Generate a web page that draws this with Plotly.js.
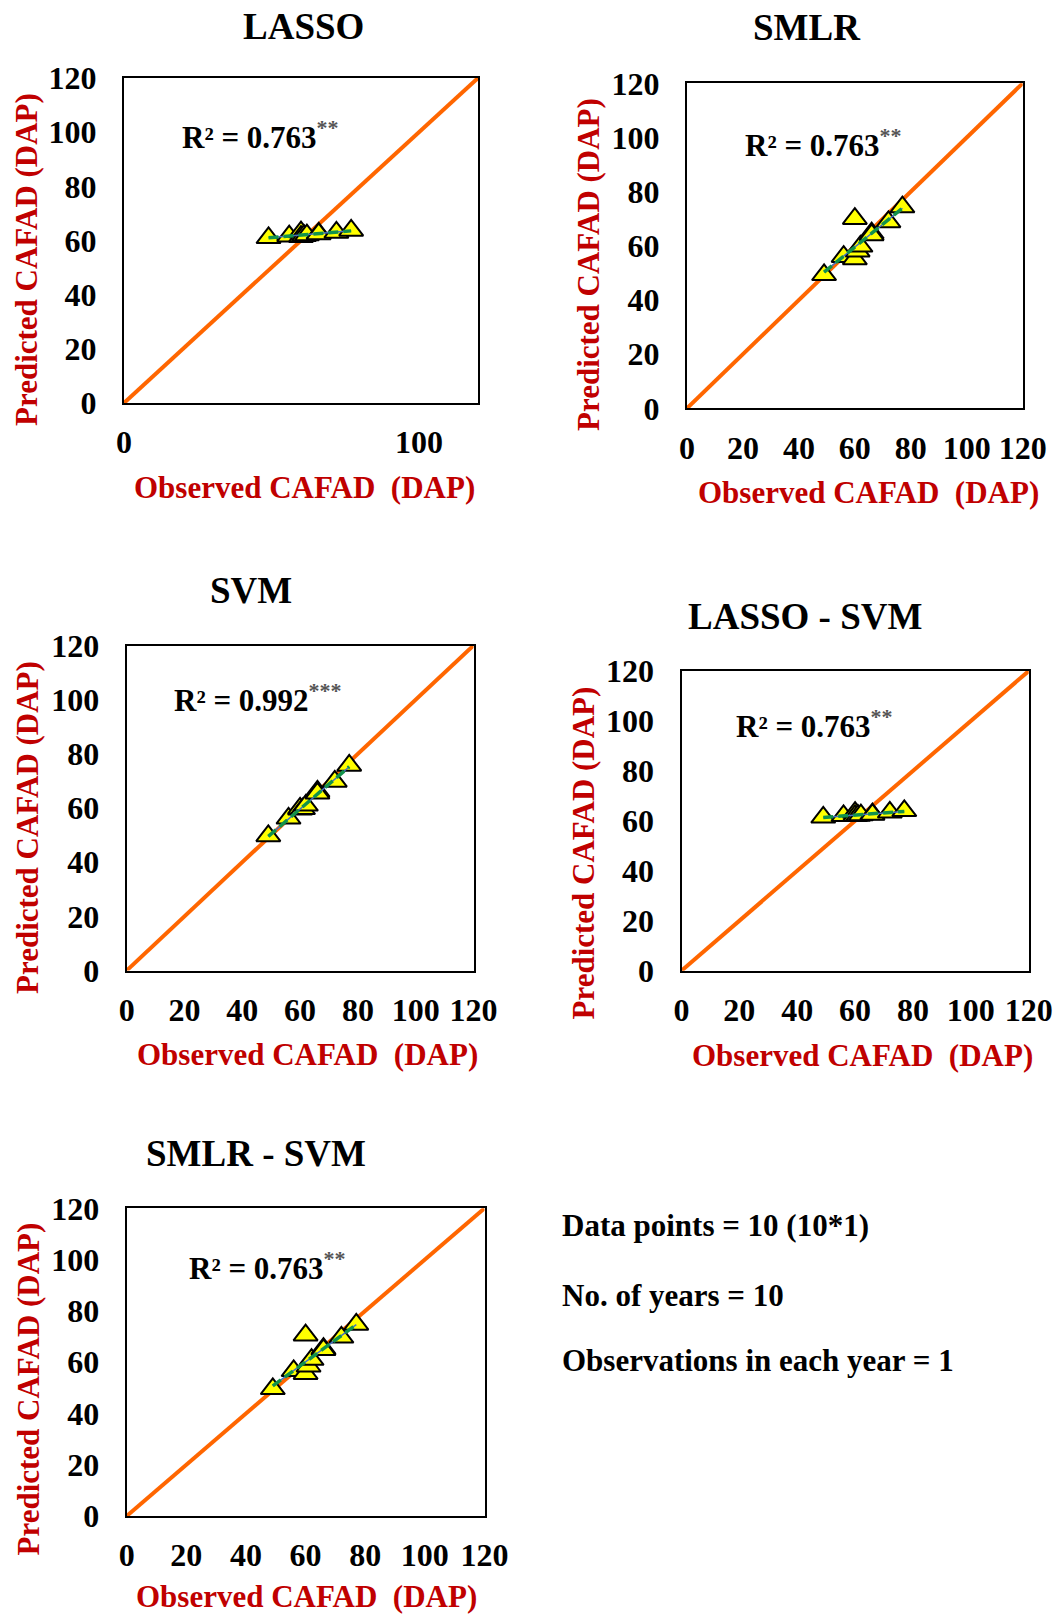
<!DOCTYPE html>
<html>
<head>
<meta charset="utf-8">
<script src="https://cdn.plot.ly/plotly-3.0.1.min.js"></script>
<style>html,body{margin:0;padding:0;background:#fff}#chart{width:1061px;height:1616px}</style>
</head>
<body>
<div id="chart"></div>
<script>
// ---------- data ----------
const observed      = [49, 56, 60, 60, 61, 62, 66, 66, 72, 77];
const predLasso     = [61.0, 61.6, 63.1, 61.4, 61.8, 62.0, 62.6, 62.4, 63.0, 63.7];
const predSmlr      = [49.3, 56.0, 70.0, 55.1, 58.0, 59.8, 64.7, 64.0, 68.8, 74.3];
const predSvm       = [49.7, 56.2, 59.5, 59.9, 59.7, 61.0, 66.1, 65.4, 69.8, 75.7];
const predLassoSvm  = [61.4, 62.0, 63.3, 62.0, 62.1, 62.3, 62.7, 62.5, 63.4, 64.0];
const predSmlrSvm   = [49.6, 56.6, 70.5, 55.5, 58.4, 61.0, 65.3, 64.8, 69.7, 74.7];
const panelTitles   = ["LASSO", "SMLR", "SVM", "LASSO - SVM", "SMLR - SVM"];
const r2Values      = ["0.763", "0.763", "0.992", "0.763", "0.763"];
const r2Stars       = ["**", "**", "***", "**", "**"];
const oneToOne      = [0, 120];
const ticksFull     = [0, 20, 40, 60, 80, 100, 120];
const ticksLassoX   = [0, 100];
const infoLines     = ["Data points = 10 (10*1)", "No. of years = 10", "Observations in each year = 1"];
const xTitleText    = "Observed CAFAD\u00a0 (DAP)";
const yTitleText    = "Predicted CAFAD (DAP)";

// ---------- layout helpers ----------
const W = 1061, H = 1616;
const FONT = '"Liberation Serif", "Times New Roman", serif';
const px = v => v / W;
const py = v => 1 - v / H;

const preds = [predLasso, predSmlr, predSvm, predLassoSvm, predSmlrSvm];
const xTickSets = [ticksLassoX, ticksFull, ticksFull, ticksFull, ticksFull];

// pixel geometry of each panel
const geo = [
  {l:124,   r:478,    t:78,    b:403,   title:[303,27],    xt:[304,487],   yt:[26,260],   r2:[19,99]},
  {l:687,   r:1022.7, t:83.3,  b:408.3, title:[806.7,27.5],xt:[868.3,492], yt:[589,265],  r2:[20,98]},
  {l:126.7, r:473.5,  t:645.5, b:970.5, title:[250.5,591], xt:[307,1054],  yt:[27,828],   r2:[15.5,100.5]},
  {l:681.5, r:1028.7, t:671,   b:970.7, title:[804.8,616], xt:[862.5,1055],yt:[582.5,853],r2:[18,98.7]},
  {l:126.7, r:484.5,  t:1208.3,b:1516,  title:[255.8,1153],xt:[306.7,1596],yt:[27.5,1389],r2:[20.3,97.4]}
];

function fit(x, y) {
  const n = x.length;
  const mx = x.reduce((a,b)=>a+b,0)/n, my = y.reduce((a,b)=>a+b,0)/n;
  let sxy = 0, sxx = 0;
  for (let i=0;i<n;i++){ sxy += (x[i]-mx)*(y[i]-my); sxx += (x[i]-mx)*(x[i]-mx); }
  const m = sxy/sxx, c = my - m*mx;
  const x0 = Math.min(...x), x1 = Math.max(...x);
  return {x:[x0,x1], y:[m*x0+c, m*x1+c]};
}

const traces = [];
const layout = {
  width: W, height: H,
  margin: {l:0, r:0, t:0, b:0},
  paper_bgcolor: '#ffffff', plot_bgcolor: '#ffffff',
  showlegend: false,
  annotations: [],
  font: {family: FONT, color: '#000'}
};

preds.forEach((p, i) => {
  const k = i === 0 ? '' : String(i + 1);
  const xa = 'x' + k, ya = 'y' + k;
  const g = geo[i];
  const tf = {family: FONT, size: 32, color: '#000', weight: 'bold'};
  layout['xaxis' + k] = {
    domain: [px(g.l), px(g.r)], anchor: ya, range: [0, 120],
    tickvals: xTickSets[i], ticktext: xTickSets[i].map(String),
    showline: true, mirror: true, linecolor: '#000', linewidth: 2,
    showgrid: false, zeroline: false, ticks: '', tickfont: tf,
    ticklabelstandoff: 10, fixedrange: true
  };
  layout['yaxis' + k] = {
    domain: [py(g.b), py(g.t)], anchor: xa, range: [0, 120],
    tickvals: ticksFull, ticktext: ticksFull.map(String),
    showline: true, mirror: true, linecolor: '#000', linewidth: 2,
    showgrid: false, zeroline: false, ticks: '', tickfont: tf,
    ticklabelstandoff: 19, fixedrange: true
  };

  traces.push({x: oneToOne, y: oneToOne, xaxis: xa, yaxis: ya, mode: 'lines',
    line: {color: '#ff6600', width: 4}, hoverinfo: 'skip'});
  traces.push({x: observed, y: p, xaxis: xa, yaxis: ya, mode: 'markers',
    marker: {symbol: 'triangle-up', size: 21, color: '#ffff00', line: {color: '#000', width: 2}}});
  const f = fit(observed, p);
  traces.push({x: f.x, y: f.y, xaxis: xa, yaxis: ya, mode: 'lines',
    line: {color: '#4472c4', width: 1.5}, hoverinfo: 'skip'});
  traces.push({x: f.x, y: f.y, xaxis: xa, yaxis: ya, mode: 'lines',
    line: {color: '#12924c', width: 3.5, dash: '10px,5px'}, hoverinfo: 'skip'});

  layout.annotations.push({xref: 'paper', yref: 'paper', x: px(g.title[0]), y: py(g.title[1]),
    xanchor: 'center', yanchor: 'middle', showarrow: false, text: panelTitles[i],
    font: {family: FONT, size: 37, color: '#000', weight: 'bold'}});
  layout.annotations.push({xref: 'paper', yref: 'paper', x: px(g.xt[0]), y: py(g.xt[1]),
    xanchor: 'center', yanchor: 'middle', showarrow: false, text: xTitleText,
    font: {family: FONT, size: 31, color: '#c00000', weight: 'bold'}});
  layout.annotations.push({xref: 'paper', yref: 'paper', x: px(g.yt[0]), y: py(g.yt[1]),
    xanchor: 'center', yanchor: 'middle', showarrow: false, text: yTitleText, textangle: -90,
    font: {family: FONT, size: 31, color: '#c00000', weight: 'bold'}});
  layout.annotations.push({xref: xa, yref: ya, x: g.r2[0], y: g.r2[1],
    xanchor: 'left', yanchor: 'middle', showarrow: false,
    text: 'R² = ' + r2Values[i] + '<sup><span style="font-size:22px;color:#555555">' + r2Stars[i] + '</span></sup>',
    font: {family: FONT, size: 31, color: '#000', weight: 'bold'}});
});

const infoY = [1225, 1295, 1360];
infoLines.forEach((t, j) => {
  layout.annotations.push({xref: 'paper', yref: 'paper', x: px(560), y: py(infoY[j]),
    xanchor: 'left', yanchor: 'middle', showarrow: false, text: t,
    font: {family: FONT, size: 31, color: '#000', weight: 'bold'}});
});

Plotly.newPlot('chart', traces, layout, {displayModeBar: false, staticPlot: true});
</script>
</body>
</html>
